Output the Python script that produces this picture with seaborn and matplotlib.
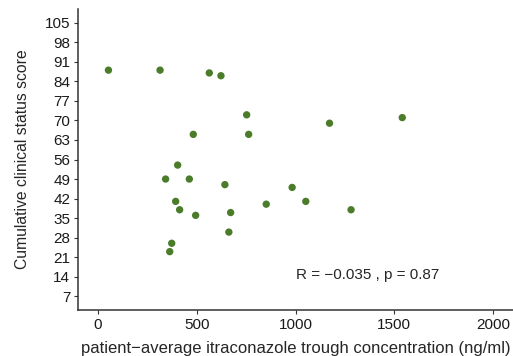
import pandas as pd
import matplotlib.pyplot as plt
import seaborn as sns

# patient-average itraconazole trough concentration (ng/ml)
konzentration = [54, 315, 564, 623, 753, 483, 763, 404, 1172, 1540,
                 343, 463, 643, 394, 414, 495, 672, 663, 374, 364,
                 852, 983, 1052, 1281]
# cumulative clinical status score
score = [88, 88, 87, 86, 72, 65, 65, 54, 69, 71,
         49, 49, 47, 41, 38, 36, 37, 30, 26, 23,
         40, 46, 41, 38]

x_ticks = [0, 500, 1000, 1500, 2000]
y_ticks = [7, 14, 21, 28, 35, 42, 49, 56, 63, 70, 77, 84, 91, 98, 105]
label = "R = \u22120.035 , p = 0.87"

df = pd.DataFrame({'konz': konzentration, 'score': score})

sns.set_style("ticks")
plt.rcParams['font.family'] = ['Liberation Sans', 'DejaVu Sans']

fig = plt.figure(figsize=(5.13, 3.56), dpi=100)
ax = fig.add_axes([78 / 513, 46 / 356, 435 / 513, 301 / 356])

sns.scatterplot(data=df, x='konz', y='score', color='#4a7c2a', s=28,
                edgecolor='none', ax=ax)

ax.set_xlim(-100, 2100)
ax.set_ylim(2.1, 109.9)
ax.set_xticks(x_ticks)
ax.set_yticks(y_ticks)
ax.tick_params(labelsize=11, colors='#333333', length=3, width=0.8,
               labelcolor='#1a1a1a', pad=2.5)
sns.despine(ax=ax)
for s in ['left', 'bottom']:
    ax.spines[s].set_color('#333333')
    ax.spines[s].set_linewidth(1.1)

ax.text(1000, 14.5, label, fontsize=11, va='center', ha='left')

ax.set_xlabel('patient\u2212average itraconazole trough concentration (ng/ml)',
              fontsize=12, labelpad=7)
ax.set_ylabel('Cumulative clinical status score', fontsize=11.3, labelpad=11)

plt.savefig('out.png', dpi=100)
